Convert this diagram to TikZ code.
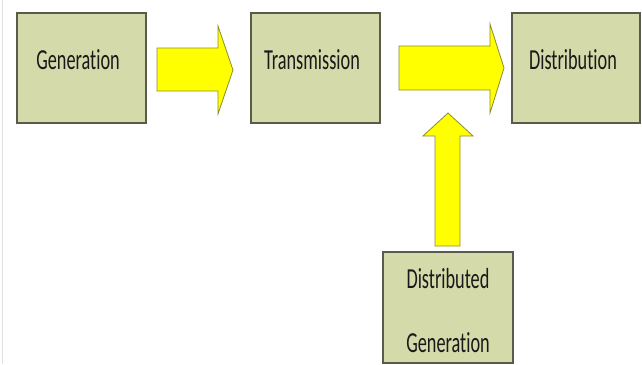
\documentclass[tikz,border=0pt]{standalone}
\usepackage{fontspec}
\newfontfamily\lab[FakeStretch=0.63, Ligatures={NoCommon}]{Carlito}
\definecolor{boxfill}{RGB}{212,218,170}
\definecolor{boxline}{RGB}{90,92,75}
\definecolor{arrfill}{RGB}{255,255,0}
\definecolor{arrline}{RGB}{140,140,50}
\tikzset{
  stage/.style={draw=boxline, line width=1.1pt, fill=boxfill, inner sep=0pt},
  flow/.style={draw=arrline, line width=0.8pt, fill=arrfill, line join=miter},
  txt/.style={font=\lab\fontsize{29}{29}\selectfont, text=black!90, inner sep=0pt, anchor=base}
}
\begin{document}
\begin{tikzpicture}[x=1pt,y=-1pt]
\useasboundingbox (0,0) rectangle (642,364);
\fill[white] (0,0) rectangle (642,364);
\draw[black!12, line width=1pt] (2.5,0) -- (2.5,364);
% boxes
\draw[stage] (17,13) rectangle (146,123);
\draw[stage] (251,13) rectangle (380,123);
\draw[stage] (512,13) rectangle (640,123);
\draw[stage] (383,252) rectangle (513,363);
\node[txt] (gen) at (78,69.3) {Generation};
\node[txt] (tra) at (312,69.3) {Transmission};
\node[txt] (dis) at (573,69.3) {Distribution};
\node[txt] (dg1) at (448,288) {Distributed};
\node[txt] (dg2) at (448,352) {Generation};
% arrows
\draw[flow] (157,48) -- (218,48) -- (218,26) -- (233,70) -- (218,114) -- (218,91) -- (157,91) -- cycle;
\draw[flow] (399,46) -- (490,46) -- (490,24) -- (504,68) -- (490,113) -- (490,90) -- (399,90) -- cycle;
\draw[flow] (435,246) -- (435,136) -- (423,136) -- (448,113) -- (473,136) -- (460,136) -- (460,246) -- cycle;
\end{tikzpicture}
\end{document}
